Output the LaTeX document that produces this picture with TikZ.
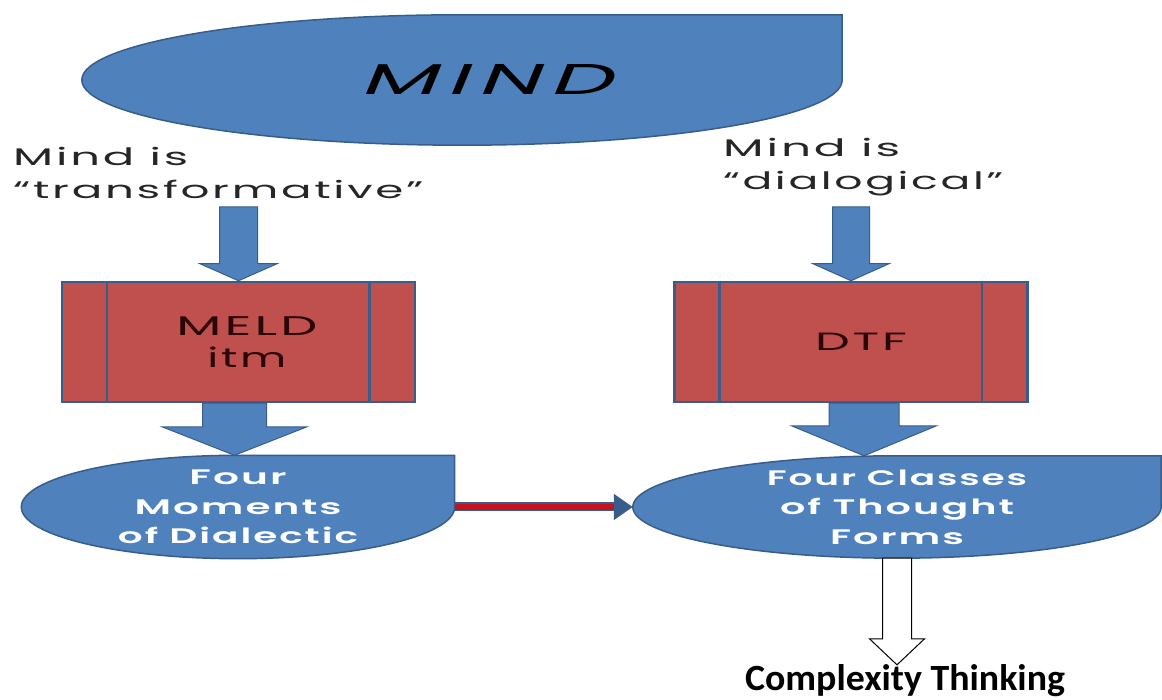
\documentclass[tikz,border=0pt]{standalone}
\usepackage{fontspec}
\setmainfont{Poppins}
\newfontfamily\notefont[LetterSpace=6]{Poppins}
\newfontfamily\ovalfont[LetterSpace=5,BoldFont={Poppins SemiBold}]{Poppins}
\newfontfamily\headfont[LetterSpace=10,FakeSlant=0.2]{Poppins}
\newfontfamily\carlito{Carlito}
\usetikzlibrary{calc,positioning,backgrounds,arrows.meta}
\definecolor{ovalblue}{HTML}{4F81BD}
\definecolor{edgeblue}{HTML}{385D8A}
\definecolor{boxred}{HTML}{C0504D}
\definecolor{linkred}{HTML}{C8101E}
\definecolor{boxtext}{HTML}{2A0606}
% stretch a line of text to a given width, height kept
\newcommand{\widen}[2]{\resizebox{#1}{\height}{#2}}

\begin{document}
\begin{tikzpicture}[
    x=1pt, y=1pt,
    oval/.style={inner sep=0, align=center, text=white,
      font={\ovalfont\bfseries\fontsize{21}{29.5}\selectfont}},
    ovalfill/.style={fill=ovalblue, draw=edgeblue, line width=1.5pt},
    stage/.style={draw=edgeblue, line width=2.5pt, fill=boxred, inner sep=0,
      minimum width=353pt, minimum height=120pt, text=boxtext, align=center,
      font={\notefont\fontsize{27}{32}\selectfont}},
    bar/.style={draw=edgeblue, line width=2.5pt},
    note/.style={inner sep=0, anchor=north west, align=left, text=black!85,
      font={\notefont\fontsize{24}{33}\selectfont}},
    fat/.style n args={3}{to path={
      let \p1=(\tikztostart), \p2=(\tikztotarget) in
      (\x1-#1,\y1) -- (\x1-#1,\y2+#3) -- (\x1-#2,\y2+#3) -- (\x1,\y2)
      -- (\x1+#2,\y2+#3) -- (\x1+#1,\y2+#3) -- (\x1+#1,\y1) -- cycle}},
    blockarrow/.style={fill=ovalblue, draw=edgeblue, line width=1pt},
    hollow/.style={fill=white, draw=black, line width=1pt}
  ]
  \useasboundingbox (0,0) rectangle (1162,700);

  % ovals (shape drawn behind, see below)
  \node[oval, minimum width=760pt, minimum height=130pt, text=black,
    font={\headfont\fontsize{43}{45}\selectfont}] (mind) at (462,620)
    {\hspace*{48pt}\widen{252pt}{MIND}};
  \node[oval, minimum width=433pt, minimum height=103pt] (dial) at (238,193)
    {\widen{97pt}{Four}\\\widen{207pt}{Moments}\\\widen{240pt}{of Dialectic}};
  \node[oval, minimum width=528pt, minimum height=102pt] (forms) at (897,193)
    {\widen{260pt}{Four Classes}\\\widen{234pt}{of Thought}\\\widen{134pt}{Forms}};

  % the two stages
  \node[stage] (meld) at (238.5,358)
    {\hspace*{17pt}\widen{141pt}{MELD}\\\hspace*{17pt}\widen{79pt}{itm}};
  \node[stage, font={\notefont\fontsize{25}{30}\selectfont}] (dtf) at (851,358)
    {\hspace*{20pt}\widen{92pt}{DTF}};
  \foreach \s in {meld,dtf} {
    \draw[bar] ([xshift=46pt]\s.north west) -- ([xshift=46pt]\s.south west);
    \draw[bar] ([xshift=-47pt]\s.north east) -- ([xshift=-47pt]\s.south east);
  }

  % side notes
  \node[note] (trans) at (13,553)
    {\widen{175pt}{Mind is}\\\widen{410pt}{“transformative”}};
  \node[note] (dialog) at (723,562)
    {\widen{177pt}{Mind is}\\\widen{280pt}{“dialogical”}};

  \node[anchor=base, inner sep=0, font={\carlito\bfseries\fontsize{37}{40}\selectfont}]
    (cplx) at (905,9) {\widen{320pt}{Complexity Thinking}};

  \begin{scope}[on background layer]
    \foreach \o in {mind,dial,forms}
      \filldraw[ovalfill] (\o.north) -- (\o.north east) -- (\o.east)
        let \p1=($(\o.east)-(\o.center)$), \p2=($(\o.north)-(\o.center)$) in
        arc[start angle=0, end angle=-180, x radius=\x1, y radius=\y2]
        arc[start angle=180, end angle=90, x radius=\x1, y radius=\y2] -- cycle;
  \end{scope}

  % arrows
  \filldraw[blockarrow, fat={19pt}{38.5pt}{17pt}] (meld.north |- 0,493) to (meld.north);
  \filldraw[blockarrow, fat={18.5pt}{38pt}{17pt}] (dtf.north |- 0,493) to (dtf.north);
  \filldraw[blockarrow, fat={32pt}{72.5pt}{28.5pt}] ([xshift=-4pt]meld.south) to (dial.north);
  \filldraw[blockarrow, fat={35pt}{72.5pt}{30pt}] ([xshift=13pt]dtf.south) to ([xshift=13pt]dtf.south |- forms.north);
  \draw[edgeblue, line width=9pt, -{Triangle[length=19pt,width=25pt]}] (dial.east) -- (forms.west);
  \draw[linkred, line width=5.5pt] (dial.east) -- ([xshift=-19pt]forms.west);
  \filldraw[hollow, fat={14.5pt}{27.5pt}{26pt}] (forms.south) to (cplx.north);
\end{tikzpicture}
\end{document}
